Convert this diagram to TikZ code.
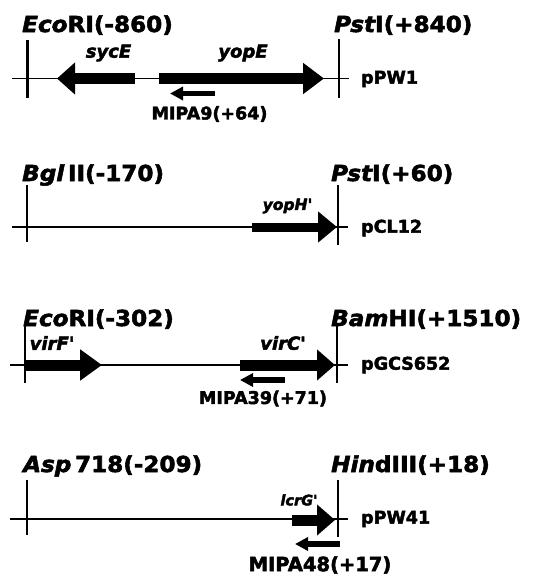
\documentclass[tikz,border=0pt]{standalone}
\usepackage{fontspec}
\usetikzlibrary{arrows.meta}
\newfontfamily\titlefont[FakeStretch=1.05,FakeBold=2.5]{DejaVu Sans}
\newfontfamily\labfont[FakeBold=2.5]{DejaVu Sans}
\begin{document}
\begin{tikzpicture}[x=1pt,y=-1pt,
  dna/.style={line width=1.5pt},
  site/.style={line width=2.6pt},
  gene/.style={line width=11pt,-{Triangle[length=21pt,width=30pt]}},
  primer/.style={line width=5.5pt,-{Triangle[length=13pt,width=13pt]}},
  title/.style={font=\titlefont\bfseries\fontsize{22}{24}\selectfont,anchor=base west,inner sep=0pt},
  plasmid/.style={font=\labfont\bfseries\fontsize{17.5}{19}\selectfont,anchor=west,inner sep=0pt},
  glabel/.style={font=\labfont\bfseries\itshape\fontsize{18}{20}\selectfont,inner sep=0pt},
  plabel/.style={font=\labfont\bfseries\fontsize{17.5}{19}\selectfont,inner sep=0pt}]
\useasboundingbox (0,0) rectangle (533,576);
% ---------- panel 1 ----------
\coordinate (a1) at (12,78.5); \coordinate (b1) at (349,78.5);
\draw[dna] (a1) -- (b1);
\coordinate (s1t) at (27.5,40); \coordinate (s1b) at (27.5,98);
\coordinate (s2t) at (339,39); \coordinate (s2b) at (339,98);
\draw[site] (s1t) -- (s1b); \draw[site] (s2t) -- (s2b);
\node[title] (t1l) at (22,32) {{\itshape Eco}RI(-860)};
\node[title] (t1r) at (334,32) {{\itshape Pst}I(+840)};
\coordinate (sycEs) at (135,78.5); \coordinate (sycEe) at (57,78.5);
\draw[gene,-{Triangle[length=18pt,width=31pt]}] (sycEs) -- (sycEe);
\coordinate (yopEs) at (159,78.5); \coordinate (yopEe) at (324,78.5);
\draw[gene] (yopEs) -- (yopEe);
\node[glabel] (g1) at (108.5,53) {sycE};
\node[glabel] (g2) at (243,53) {yopE};
\coordinate (m9s) at (215,93.5); \coordinate (m9e) at (170,93.5);
\draw[primer] (m9s) -- (m9e);
\node[plabel] (p9) at (209.5,114) {MIPA9(+64)};
\node[plasmid] (pl1) at (361,79) {pPW1};
% ---------- panel 2 ----------
\coordinate (a2) at (12,227); \coordinate (b2) at (348,227);
\draw[dna] (a2) -- (b2);
\coordinate (s3t) at (27,185); \coordinate (s3b) at (27,242);
\coordinate (s4t) at (338,185); \coordinate (s4b) at (338,245);
\draw[site] (s3t) -- (s3b); \draw[site] (s4t) -- (s4b);
\node[title] (t2l) at (22,181) {{\itshape Bgl}\,II(-170)};
\node[title] (t2r) at (331,181) {{\itshape Pst}I(+60)};
\coordinate (yopHs) at (252,227); \coordinate (yopHe) at (337,227);
\draw[gene,line width=9pt,-{Triangle[length=19pt,width=30pt]}] (yopHs) -- (yopHe);
\node[glabel,font=\labfont\bfseries\itshape\fontsize{15.5}{17}\selectfont] (g3) at (287.5,206) {yopH'};
\node[plasmid] (pl2) at (361,228) {pCL12};
% ---------- panel 3 ----------
\coordinate (a3) at (10,365); \coordinate (b3) at (348,365);
\draw[dna] (a3) -- (b3);
\coordinate (s5t) at (25,326); \coordinate (s5b) at (25,383);
\coordinate (s6t) at (337,325); \coordinate (s6b) at (337,383);
\draw[site] (s5t) -- (s5b); \draw[site] (s6t) -- (s6b);
\node[title] (t3l) at (23,326) {{\itshape Eco}RI(-302)};
\node[title] (t3r) at (331,326) {{\itshape Bam}HI(+1510)};
\coordinate (virFs) at (25,365); \coordinate (virFe) at (102,365);
\draw[gene,-{Triangle[length=22pt,width=30pt]}] (virFs) -- (virFe);
\coordinate (virCs) at (240,365); \coordinate (virCe) at (335,365);
\draw[gene,-{Triangle[length=18pt,width=30pt]}] (virCs) -- (virCe);
\node[glabel] (g4) at (52,343) {virF'};
\node[glabel] (g5) at (283,343) {virC'};
\coordinate (m39s) at (285,380); \coordinate (m39e) at (240,380);
\draw[primer] (m39s) -- (m39e);
\node[plabel] (p39) at (263,398.5) {MIPA39(+71)};
\node[plasmid] (pl3) at (361,365) {pGCS652};
% ---------- panel 4 ----------
\coordinate (a4) at (10,519); \coordinate (b4) at (348,519);
\draw[dna] (a4) -- (b4);
\coordinate (s7t) at (27,480); \coordinate (s7b) at (27,535);
\coordinate (s8t) at (338,480); \coordinate (s8b) at (338,537);
\draw[site] (s7t) -- (s7b); \draw[site] (s8t) -- (s8b);
\node[title] (t4l) at (23,472) {{\itshape Asp}\,718(-209)};
\node[title] (t4r) at (331,472) {{\itshape Hin}dIII(+18)};
\coordinate (lcrGs) at (292,520); \coordinate (lcrGe) at (335,520);
\draw[gene,-{Triangle[length=18pt,width=30pt]}] (lcrGs) -- (lcrGe);
\node[glabel,font=\labfont\bfseries\itshape\fontsize{14.5}{16}\selectfont] (g6) at (299,500) {lcrG'};
\coordinate (m48s) at (340,544); \coordinate (m48e) at (295,544);
\draw[primer] (m48s) -- (m48e);
\node[plabel,font=\labfont\bfseries\fontsize{19.5}{21}\selectfont] (p48) at (320,565) {MIPA48(+17)};
\node[plasmid] (pl4) at (361,519) {pPW41};
\end{tikzpicture}
\end{document}
